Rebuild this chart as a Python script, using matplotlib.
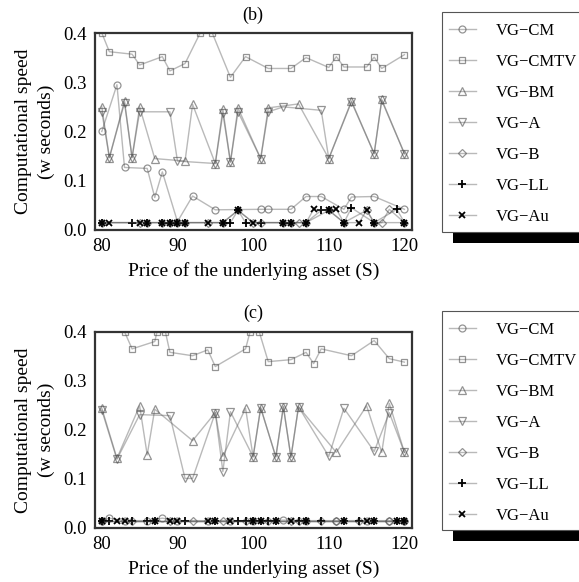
import matplotlib
matplotlib.use('Agg')
import matplotlib.pyplot as plt
from matplotlib.patches import Rectangle

plt.rcParams['font.family'] = ['Liberation Serif', 'DejaVu Serif']

# --- panel (b) ---
b_cm_x = [80, 82, 83, 86, 87, 88, 90, 92, 95, 101, 102, 105, 107, 109, 112, 113, 116, 120]
b_cm_y = [0.200, 0.295, 0.127, 0.125, 0.066, 0.118, 0.017, 0.069, 0.041, 0.042, 0.042,
          0.042, 0.068, 0.068, 0.042, 0.067, 0.068, 0.042]
b_cmtv_x = [80, 81, 84, 85, 88, 89, 91, 93, 94.6, 97, 99, 102, 105, 107, 110, 111, 112,
            115, 116, 117, 120]
b_cmtv_y = [0.400, 0.362, 0.357, 0.335, 0.352, 0.323, 0.338, 0.400, 0.400, 0.310, 0.352,
            0.328, 0.328, 0.350, 0.330, 0.352, 0.331, 0.331, 0.351, 0.328, 0.356]
b_bm_x = [80, 81, 83, 84, 85, 87, 91, 92, 95, 96, 97, 98, 101, 102, 106, 110, 113, 116, 117, 120]
b_bm_y = [0.250, 0.147, 0.262, 0.147, 0.250, 0.145, 0.140, 0.255, 0.135, 0.245, 0.138,
          0.248, 0.145, 0.248, 0.256, 0.145, 0.262, 0.155, 0.265, 0.155]
b_a_x = [80, 81, 83, 84, 85, 89, 90, 95, 96, 97, 98, 101, 102, 104, 109, 110, 113, 116, 117, 120]
b_a_y = [0.240, 0.147, 0.258, 0.147, 0.240, 0.240, 0.140, 0.135, 0.237, 0.138, 0.240,
         0.145, 0.240, 0.250, 0.243, 0.145, 0.260, 0.155, 0.263, 0.155]
b_b_x = [80, 85, 86, 88, 89, 90, 91, 94, 96, 98, 100, 101, 104, 105, 106, 107, 110, 112,
         115, 116, 117, 118, 120]
b_b_y = [0.015, 0.015, 0.015, 0.015, 0.015, 0.015, 0.015, 0.015, 0.015, 0.040, 0.015, 0.015,
         0.015, 0.015, 0.015, 0.015, 0.040, 0.015, 0.040, 0.015, 0.015, 0.042, 0.015]
b_ll_x = [80, 84, 86, 88, 89, 90, 91, 96, 97, 98, 99, 101, 104, 105, 107, 109, 110, 112,
          113, 116, 119, 120]
b_ll_y = [0.015, 0.015, 0.015, 0.015, 0.015, 0.015, 0.015, 0.015, 0.015, 0.040, 0.015,
          0.015, 0.015, 0.015, 0.015, 0.040, 0.040, 0.015, 0.045, 0.015, 0.042, 0.015]
b_au_x = [80, 81, 85, 86, 88, 89, 90, 91, 94, 96, 98, 100, 104, 105, 107, 108, 110, 111,
          112, 114, 115, 116, 120]
b_au_y = [0.015, 0.015, 0.015, 0.015, 0.015, 0.015, 0.015, 0.015, 0.015, 0.015, 0.040,
          0.015, 0.015, 0.015, 0.015, 0.042, 0.040, 0.042, 0.015, 0.015, 0.040, 0.015, 0.015]

# --- panel (c) ---
c_cm_x = [80, 81, 83, 86, 88, 90, 94, 97, 100, 104, 107, 111, 115, 118, 120]
c_cm_y = [0.015, 0.020, 0.015, 0.015, 0.020, 0.015, 0.015, 0.015, 0.015, 0.016, 0.015,
          0.015, 0.015, 0.015, 0.015]
c_cmtv_x = [83, 84, 87, 87.3, 88.4, 89, 92, 94, 95, 99, 99.6, 100.8, 102, 105, 107, 108,
            109, 113, 116, 118, 120]
c_cmtv_y = [0.400, 0.365, 0.380, 0.400, 0.400, 0.358, 0.351, 0.363, 0.329, 0.365, 0.400,
            0.400, 0.339, 0.343, 0.358, 0.335, 0.365, 0.351, 0.382, 0.345, 0.338]
c_bm_x = [80, 82, 85, 86, 87, 92, 95, 96, 99, 100, 101, 103, 104, 105, 106, 111, 115, 117, 118, 120]
c_bm_y = [0.244, 0.142, 0.249, 0.149, 0.242, 0.178, 0.235, 0.146, 0.244, 0.145, 0.245,
          0.145, 0.247, 0.144, 0.247, 0.154, 0.249, 0.154, 0.254, 0.154]
c_a_x = [80, 82, 85, 89, 91, 92, 95, 96, 97, 100, 101, 103, 104, 105, 106, 110, 112, 116, 118, 120]
c_a_y = [0.240, 0.140, 0.231, 0.229, 0.101, 0.101, 0.235, 0.115, 0.237, 0.145, 0.245,
         0.145, 0.247, 0.144, 0.247, 0.146, 0.244, 0.156, 0.235, 0.154]
c_b_x = [80, 84, 89, 92, 96, 99, 102, 105, 106, 109, 111, 114, 118, 120]
c_b_y = [0.015, 0.015, 0.015, 0.015, 0.015, 0.015, 0.015, 0.015, 0.015, 0.015, 0.015,
         0.015, 0.015, 0.015]
c_ll_x = [80, 81, 84, 86, 87, 91, 95, 98, 99, 100, 101, 102, 103, 106, 107, 109, 112, 114,
          116, 119, 120]
c_ll_y = [0.015, 0.015, 0.015, 0.015, 0.015, 0.015, 0.015, 0.015, 0.015, 0.015, 0.015,
          0.015, 0.015, 0.015, 0.015, 0.015, 0.015, 0.015, 0.015, 0.015, 0.015]
c_au_x = [80, 82, 83, 87, 89, 90, 94, 95, 97, 100, 101, 103, 105, 107, 112, 115, 116, 119, 120]
c_au_y = [0.015, 0.015, 0.015, 0.015, 0.015, 0.015, 0.015, 0.015, 0.015, 0.015, 0.015,
          0.015, 0.015, 0.015, 0.015, 0.015, 0.015, 0.015, 0.015]

labels = ['VG\u2212CM', 'VG\u2212CMTV', 'VG\u2212BM', 'VG\u2212A', 'VG\u2212B', 'VG\u2212LL', 'VG\u2212Au']
markers = ['o', 's', '^', 'v', 'D', '+', 'x']
msizes = [5, 5, 6, 6, 4.2, 6, 4]

line_col = (0.35, 0.35, 0.35, 0.42)
mk_col = (0.30, 0.30, 0.30, 0.60)

W, H = 579, 582
fig = plt.figure(figsize=(W / 100, H / 100), dpi=100)


def panel(top_px, bot_px, series, titulo):
    ax = fig.add_axes([95 / W, 1 - bot_px / H, 317 / W, (bot_px - top_px) / H])
    handles = []
    for (xs, ys), lab, mk, ms in zip(series, labels, markers, msizes):
        mec = 'k' if mk in ('+', 'x') else mk_col
        mew = 1.3 if mk in ('+', 'x') else 0.9
        h, = ax.plot(xs, ys, color=line_col, lw=1.0, marker=mk, ms=ms,
                     mfc='none', mec=mec, mew=mew, label=lab)
        handles.append(h)
    ax.set_xlim(79.1, 121.0)
    ax.set_ylim(0, 0.4)
    ax.set_xticks([80, 90, 100, 110, 120])
    ax.set_yticks([0.0, 0.1, 0.2, 0.3, 0.4])
    ax.set_yticklabels(['0.0', '0.1', '0.2', '0.3', '0.4'])
    ax.tick_params(length=0, labelsize=13.5, pad=6)
    for s in ax.spines.values():
        s.set_linewidth(1.6)
        s.set_color('#333333')
    ax.set_xlabel('Price of the underlying asset (S)', fontsize=14, labelpad=5)
    fig.text(35 / W, 1 - (top_px + bot_px) / 2 / H, 'Computational speed\n(w seconds)',
             rotation=90, ha='center', va='center', fontsize=14, linespacing=1.45)
    fig.text(253 / W, 1 - (top_px - 18) / H, titulo, ha='center', va='center', fontsize=13)

    # caixa da legenda com sombra preta
    box_top = top_px - 21
    box_bot = bot_px + 2
    fig.patches.append(Rectangle((453 / W, 1 - (box_bot + 11) / H), 200 / W,
                                 (box_bot - box_top) / H, transform=fig.transFigure,
                                 facecolor='black', edgecolor='none', zorder=-2))
    fig.patches.append(Rectangle((442 / W, 1 - box_bot / H), 200 / W,
                                 (box_bot - box_top) / H, transform=fig.transFigure,
                                 facecolor='white', edgecolor='#555555', lw=0.8, zorder=-1))
    ax.legend(handles=handles, loc='upper left',
              bbox_to_anchor=(449 / W, 1 - (box_top + 11) / H),
              bbox_transform=fig.transFigure, frameon=False, fontsize=12,
              handlelength=1.6, handletextpad=1.2, labelspacing=0.9,
              borderpad=0, borderaxespad=0)
    return ax


panel(33, 230, [(b_cm_x, b_cm_y), (b_cmtv_x, b_cmtv_y), (b_bm_x, b_bm_y), (b_a_x, b_a_y),
                (b_b_x, b_b_y), (b_ll_x, b_ll_y), (b_au_x, b_au_y)], '(b)')
panel(331.7, 528, [(c_cm_x, c_cm_y), (c_cmtv_x, c_cmtv_y), (c_bm_x, c_bm_y), (c_a_x, c_a_y),
                   (c_b_x, c_b_y), (c_ll_x, c_ll_y), (c_au_x, c_au_y)], '(c)')

fig.savefig('out.png', dpi=100)
